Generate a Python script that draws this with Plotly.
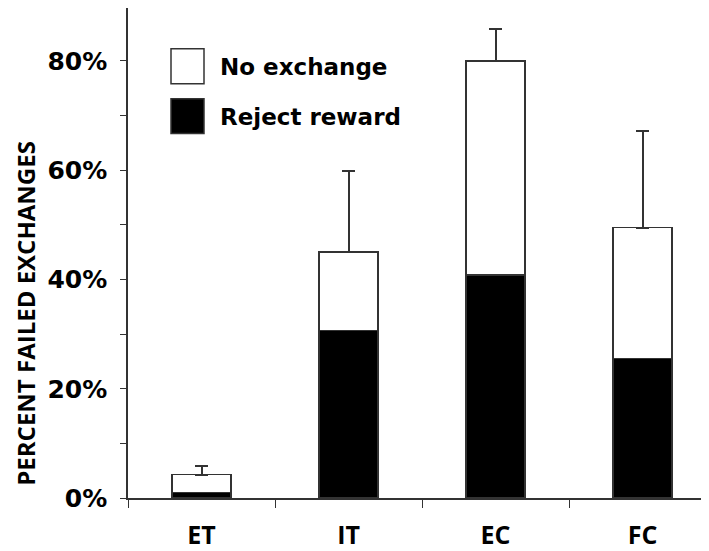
import plotly.graph_objects as go

categories = ["ET", "IT", "EC", "FC"]
series_names = ["No exchange", "Reject reward"]
reject_reward = [1.0, 30.7, 40.8, 25.5]
no_exchange = [3.3, 14.3, 39.2, 24.0]
error_upper = [1.6, 14.8, 5.9, 17.7]
y_tick_values = [0, 10, 20, 30, 40, 50, 60, 70, 80]
y_tick_labels = ["0%", "", "20%", "", "40%", "", "60%", "", "80%"]

EDGE = "#333333"
OFF = 8  # page body margin
W, H = 709 - OFF, 551 - OFF
ML, MR, MT, MB = 120, 0, 0, 51
PW, PH = W - ML - MR, H - MT - MB


def px_x(x):
    return (x - OFF - ML) / PW


def px_y(y):
    return (H - MB - (y - OFF)) / PH


fig = go.Figure()
fig.add_trace(go.Bar(
    x=categories, y=reject_reward, name=series_names[1],
    marker=dict(color="black", line=dict(color=EDGE, width=1.5)),
    showlegend=False,
))
fig.add_trace(go.Bar(
    x=categories, y=no_exchange, name=series_names[0],
    marker=dict(color="white", line=dict(color=EDGE, width=1.5)),
    error_y=dict(type="data", symmetric=False, array=error_upper,
                 arrayminus=[0] * len(error_upper),
                 color=EDGE, thickness=2, width=6.5),
    showlegend=False,
))

legend_items = [
    (series_names[0], "white", 49, 84),
    (series_names[1], "black", 99, 134),
]
shapes = []
annotations = []
for name, fill, y0, y1 in legend_items:
    shapes.append(dict(type="rect", xref="paper", yref="paper",
                       x0=px_x(171), x1=px_x(204), y0=px_y(y1), y1=px_y(y0),
                       fillcolor=fill, line=dict(color=EDGE, width=1.5)))
    annotations.append(dict(text=name, xref="paper", yref="paper",
                            x=px_x(218), y=px_y((y0 + y1) / 2 + 1),
                            xanchor="left", yanchor="middle", showarrow=False,
                            font=dict(family="DejaVu Sans", size=23, color="black",
                                      weight="bold")))

annotations.append(dict(text="PERCENT FAILED EXCHANGES", xref="paper", yref="paper",
                        x=px_x(26), y=px_y(315), textangle=-90, borderpad=0,
                        xanchor="center", yanchor="middle", showarrow=False,
                        font=dict(family="Open Sans", size=24, color="black",
                                  weight="bold")))

fig.update_layout(
    width=W, height=H,
    margin=dict(l=ML, r=MR, t=MT, b=MB, pad=0),
    paper_bgcolor="white", plot_bgcolor="white",
    barmode="stack", bargap=0.6,
    shapes=shapes, annotations=annotations,
    showlegend=False,
)
fig.update_xaxes(
    range=[-0.5, 3.452], showline=True, linecolor=EDGE, linewidth=1.5,
    ticks="outside", tickson="boundaries", ticklen=8, tickcolor=EDGE, tickwidth=1,
    tickfont=dict(family="Open Sans", size=25, color="black", weight="bold"),
    ticklabelstandoff=14, showgrid=False, zeroline=False,
)
fig.update_yaxes(
    range=[0, 89.7], showline=True, linecolor=EDGE, linewidth=1.5,
    ticks="outside", ticklen=6, tickcolor=EDGE, tickwidth=1,
    tickvals=y_tick_values, ticktext=y_tick_labels,
    tickfont=dict(family="DejaVu Sans", size=25, color="black", weight="bold"),
    ticklabelstandoff=8, showgrid=False, zeroline=False,
)

fig.write_html("out.html")
